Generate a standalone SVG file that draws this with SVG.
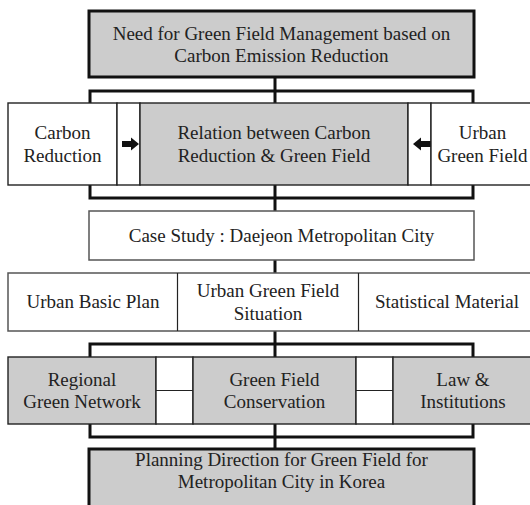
<svg xmlns="http://www.w3.org/2000/svg" width="530" height="505" viewBox="0 0 530 505">
<style>
.thick{fill:#cccccc;stroke:#111;stroke-width:3}
.gray{fill:#cccccc;stroke:#222;stroke-width:1.4}
.white{fill:#fff;stroke:#222;stroke-width:1.4}
.soft{fill:#fff;stroke:#555;stroke-width:1.5}
.conn{fill:none;stroke:#111;stroke-width:3}
.thin{fill:none;stroke:#222;stroke-width:1.2}
.arrow{fill:#111}
</style>
<rect width="530" height="505" fill="#fff"/>
<g id="connectors">
<path class="conn" d="M90,103 V91 H473 V103 M275,78 V103"/>
<path class="conn" d="M90,185 V198 H473 V185 M275,185 V211"/>
<path class="conn" d="M275,260 V273"/>
<path class="conn" d="M90,357 V344 H473 V357 M275,331 V357"/>
<path class="conn" d="M90,424 V437 H473 V424 M275,424 V449"/>
</g>
<g font-family="Liberation Serif, Tinos, Times New Roman, DejaVu Serif, serif" font-size="19" fill="#222" text-anchor="middle">
<g id="need">
<rect class="thick" x="89" y="11" width="385" height="66"/>
<text x="281.5" y="39.5">Need for Green Field Management based on</text>
<text x="281.5" y="62">Carbon Emission Reduction</text>
</g>
<g id="carbon-reduction">
<rect class="white" x="8" y="103" width="109" height="82"/>
<text x="62.5" y="139">Carbon</text>
<text x="62.5" y="161.5">Reduction</text>
</g>
<g id="arrow-left-box">
<rect class="white" x="117" y="103" width="23" height="82"/>
<polygon class="arrow" points="122,141 131,141 131,137.5 139,144 131,150.5 131,147 122,147"/>
</g>
<g id="relation">
<rect class="gray" x="140" y="103" width="268" height="82"/>
<text x="274" y="139">Relation between Carbon</text>
<text x="274" y="161.5">Reduction &amp; Green Field</text>
</g>
<g id="arrow-right-box">
<rect class="white" x="408" y="103" width="23" height="82"/>
<polygon class="arrow" points="431,141 421,141 421,137.5 413,144 421,150.5 421,147 431,147"/>
</g>
<g id="urban-green-field">
<rect class="white" x="431" y="103" width="110" height="82"/>
<text x="482.5" y="139">Urban</text>
<text x="482.5" y="161.5">Green Field</text>
</g>
<g id="case-study">
<rect class="soft" x="89" y="211" width="385" height="49"/>
<text x="281.5" y="242">Case Study : Daejeon Metropolitan City</text>
</g>
<g id="row3">
<rect class="soft" x="8" y="273" width="533" height="58"/>
<line class="thin" x1="177.5" y1="273" x2="177.5" y2="331"/>
<line class="thin" x1="358.5" y1="273" x2="358.5" y2="331"/>
</g>
<g id="urban-basic-plan">
<text x="93" y="308">Urban Basic Plan</text>
</g>
<g id="urban-green-field-situation">
<text x="268" y="297">Urban Green Field</text>
<text x="268" y="319.5">Situation</text>
</g>
<g id="statistical-material">
<text x="447" y="308">Statistical Material</text>
</g>
<g id="regional-green-network">
<rect class="gray" x="8" y="357" width="148" height="67"/>
<text x="82" y="385.5">Regional</text>
<text x="82" y="408">Green Network</text>
</g>
<g id="spacer-left">
<rect class="white" x="156" y="357" width="37" height="67"/>
<line class="thin" x1="156" y1="390.5" x2="193" y2="390.5"/>
</g>
<g id="green-field-conservation">
<rect class="gray" x="193" y="357" width="163" height="67"/>
<text x="274.5" y="385.5">Green Field</text>
<text x="274.5" y="408">Conservation</text>
</g>
<g id="spacer-right">
<rect class="white" x="356" y="357" width="37" height="67"/>
<line class="thin" x1="356" y1="390.5" x2="393" y2="390.5"/>
</g>
<g id="law-institutions">
<rect class="gray" x="393" y="357" width="148" height="67"/>
<text x="463" y="385.5">Law &amp;</text>
<text x="463" y="408">Institutions</text>
</g>
<g id="planning-direction">
<rect class="thick" x="89" y="449" width="385" height="70"/>
<text x="281.5" y="465.5">Planning Direction for Green Field for</text>
<text x="281.5" y="488">Metropolitan City in Korea</text>
</g>
</g>
</svg>
